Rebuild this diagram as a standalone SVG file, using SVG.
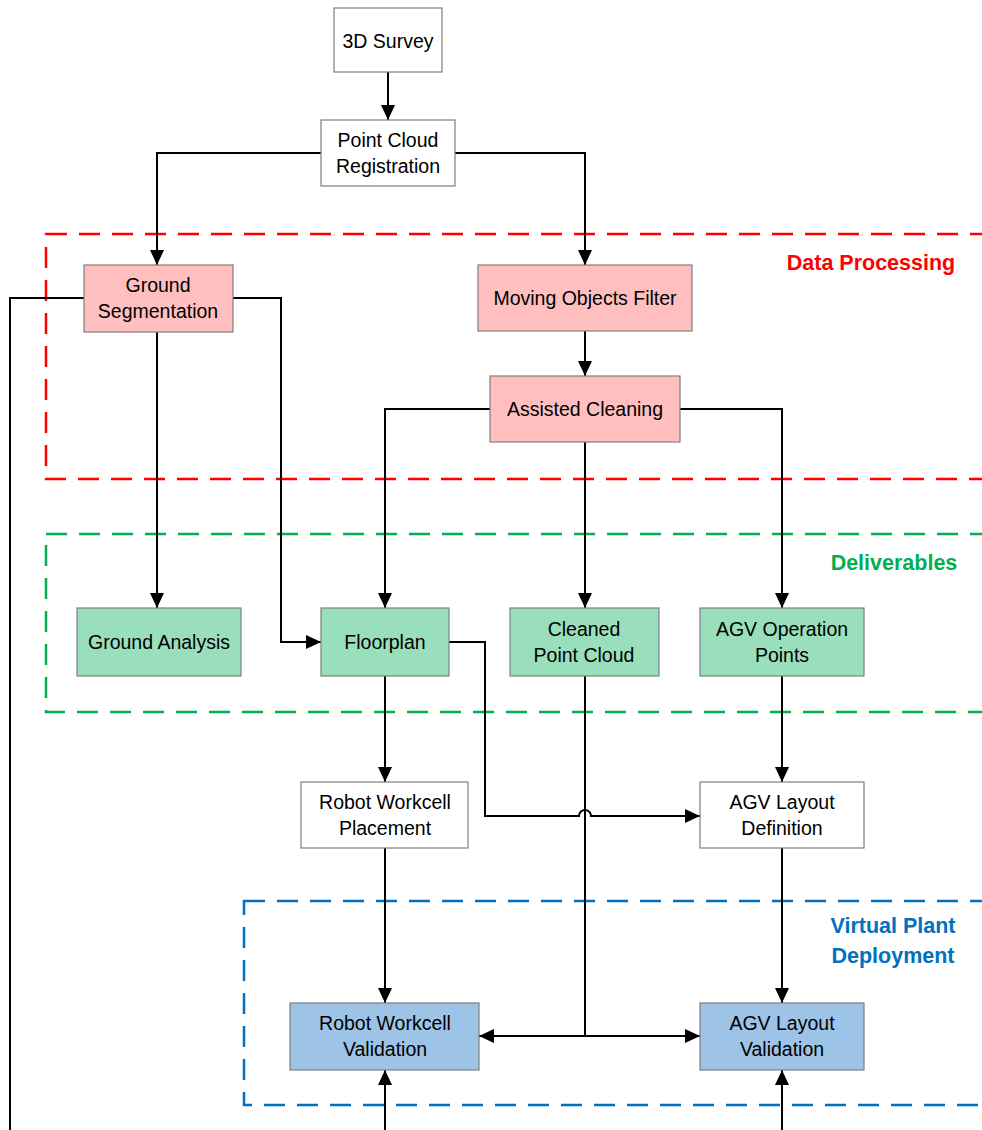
<svg xmlns="http://www.w3.org/2000/svg" width="982" height="1130" viewBox="0 0 982 1130">
<style>
.n{stroke:#7f7f7f;stroke-width:1.2}
.w{fill:#ffffff}
.p{fill:#ffbfbf}
.g{fill:#9adfbb}
.b{fill:#9dc3e6}
.t{font-family:"Liberation Sans",Arial,sans-serif;font-size:19.5px;fill:#000;text-anchor:middle}
.c{fill:none;stroke:#000;stroke-width:2}
.a{marker-end:url(#ah)}
.grp{fill:none;stroke-width:2.5;stroke-dasharray:21 12}
.lbl{font-family:"Liberation Sans",Arial,sans-serif;font-size:21.5px;font-weight:bold;text-anchor:middle}
</style>
<defs>
<marker id="ah" markerUnits="userSpaceOnUse" markerWidth="16" markerHeight="14" refX="15" refY="7" orient="auto-start-reverse" viewBox="0 0 16 14">
<path d="M0,0 L15,7 L0,14 z" fill="#000"/>
</marker>
</defs>
<rect width="982" height="1130" fill="#ffffff"/>
<g id="groups">
<rect class="grp" x="46" y="234" width="960" height="245" stroke="#ff0000"/>
<text class="lbl" x="871" y="270" fill="#ff0000">Data Processing</text>
<rect class="grp" x="46" y="534" width="960" height="178" stroke="#00b050"/>
<text class="lbl" x="894" y="570" fill="#00b050">Deliverables</text>
<rect class="grp" x="244" y="901" width="760" height="204" stroke="#0070c0"/>
<text class="lbl" x="893" y="933" fill="#0070c0">Virtual Plant</text>
<text class="lbl" x="893" y="963" fill="#0070c0">Deployment</text>
</g>
<g id="connectors">
<path class="c a" d="M388 72 V120"/>
<path class="c a" d="M321 153 H157 V265"/>
<path class="c a" d="M455 153 H585 V265"/>
<path class="c a" d="M585 331 V376"/>
<path class="c a" d="M490 409 H385 V608"/>
<path class="c a" d="M680 409 H782 V608"/>
<path class="c a" d="M585 442 V608"/>
<path class="c" d="M84 298 H10 V1130"/>
<path class="c a" d="M233 298 H281 V642 H321"/>
<path class="c a" d="M157 332 V608"/>
<path class="c a" d="M449 642 H485 V816 H579 A6 6 0 0 1 591 816 H700"/>
<path class="c a" d="M385 676 V782"/>
<path class="c a" d="M782 676 V782"/>
<path class="c a" d="M385 848 V1003"/>
<path class="c a" d="M782 848 V1003"/>
<path class="c" d="M585 676 V1036"/>
<path class="c a" style="marker-start:url(#ah)" d="M479 1036 H700"/>
<path class="c a" d="M385 1130 V1070"/>
<path class="c a" d="M782 1130 V1070"/>
</g>
<g id="survey"><rect class="n w" x="334" y="8" width="108" height="64"/><text class="t" x="388" y="48">3D Survey</text></g>
<g id="registration"><rect class="n w" x="321" y="120" width="134" height="66"/><text class="t" x="388" y="147">Point Cloud</text><text class="t" x="388" y="173">Registration</text></g>
<g id="groundseg"><rect class="n p" x="84" y="265" width="149" height="67"/><text class="t" x="158" y="292">Ground</text><text class="t" x="158" y="318">Segmentation</text></g>
<g id="movingfilter"><rect class="n p" x="478" y="265" width="214" height="66"/><text class="t" x="585" y="305">Moving Objects Filter</text></g>
<g id="cleaning"><rect class="n p" x="490" y="376" width="190" height="66"/><text class="t" x="585" y="416">Assisted Cleaning</text></g>
<g id="groundanalysis"><rect class="n g" x="77" y="608" width="164" height="68"/><text class="t" x="159" y="649">Ground Analysis</text></g>
<g id="floorplan"><rect class="n g" x="321" y="608" width="128" height="68"/><text class="t" x="385" y="649">Floorplan</text></g>
<g id="cleanedcloud"><rect class="n g" x="510" y="608" width="149" height="68"/><text class="t" x="584" y="636">Cleaned</text><text class="t" x="584" y="662">Point Cloud</text></g>
<g id="agvpoints"><rect class="n g" x="700" y="608" width="164" height="68"/><text class="t" x="782" y="636">AGV Operation</text><text class="t" x="782" y="662">Points</text></g>
<g id="workcellplacement"><rect class="n w" x="301" y="782" width="167" height="66"/><text class="t" x="385" y="809">Robot Workcell</text><text class="t" x="385" y="835">Placement</text></g>
<g id="agvlayoutdef"><rect class="n w" x="700" y="782" width="164" height="66"/><text class="t" x="782" y="809">AGV Layout</text><text class="t" x="782" y="835">Definition</text></g>
<g id="workcellvalidation"><rect class="n b" x="290" y="1003" width="189" height="67"/><text class="t" x="385" y="1030">Robot Workcell</text><text class="t" x="385" y="1056">Validation</text></g>
<g id="agvlayoutval"><rect class="n b" x="700" y="1003" width="164" height="67"/><text class="t" x="782" y="1030">AGV Layout</text><text class="t" x="782" y="1056">Validation</text></g>
</svg>
